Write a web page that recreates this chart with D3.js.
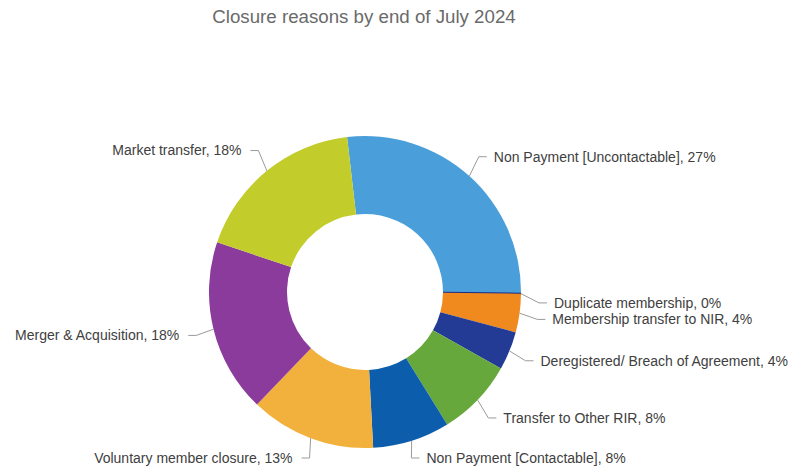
<!DOCTYPE html>
<html>
<head>
<meta charset="utf-8">
<script src="https://cdn.jsdelivr.net/npm/d3@7"></script>
<style>
  html, body { margin: 0; padding: 0; background: #fff; }
  svg { display: block; font-family: "Liberation Sans", Arial, sans-serif; }
</style>
</head>
<body>
<svg id="chart" width="792" height="469"></svg>
<script>
// Closure reasons, share of closures (%), clockwise from the top
const reasons = [
  "Non Payment [Uncontactable]",
  "Duplicate membership",
  "Membership transfer to NIR",
  "Deregistered/ Breach of Agreement",
  "Transfer to Other RIR",
  "Non Payment [Contactable]",
  "Voluntary member closure",
  "Merger & Acquisition",
  "Market transfer"
];
const shares = [27, 0, 4, 4, 8, 8, 13, 18, 18];
const sliceColors = [
  "#4a9fda", "#1e2b86", "#f0891e", "#243b95", "#66a83b",
  "#0c5ead", "#f1b13c", "#8b3b9b", "#c2cc2b"
];

const width = 792, height = 469;
const cx = 365, cy = 292;
const outerR = 156, innerR = 78, labelR = 182;
const firstAngle = -6.6 * Math.PI / 180;
const bottomLimit = height - 11 - cy;   // keep the lowest labels inside the frame
const minGap = 16.5;                    // vertical spacing between stacked labels

const svg = d3.select("#chart");

svg.append("text")
  .attr("x", 364)
  .attr("y", 23)
  .attr("text-anchor", "middle")
  .attr("fill", "#6a6a6a")
  .style("font-size", "18.7px")
  .text("Closure reasons by end of July 2024");

const data = reasons.map((name, i) => ({ name, value: shares[i], color: sliceColors[i] }));

const pie = d3.pie()
  .value(d => d.value)
  .sort(null)
  .startAngle(firstAngle)
  .endAngle(firstAngle + 2 * Math.PI);

const arcs = pie(data);
const arc = d3.arc().innerRadius(innerR).outerRadius(outerR);

const g = svg.append("g").attr("transform", `translate(${cx},${cy})`);

g.selectAll("path.slice")
  .data(arcs)
  .join("path")
  .attr("class", "slice")
  .attr("d", arc)
  .attr("fill", d => d.data.color)
  .attr("stroke", d => d.data.value === 0 ? d.data.color : "none")
  .attr("stroke-width", d => d.data.value === 0 ? 2 : 0);

// label anchors sit on a ring outside the donut, along each slice's mid angle
const polar = (r, a) => [r * Math.sin(a), -r * Math.cos(a)];

const labels = arcs.map(d => {
  const mid = (d.startAngle + d.endAngle) / 2;
  const right = Math.sin(mid) >= 0;
  const p0 = polar(outerR, mid);
  const p2 = polar(labelR, mid);
  // a zero-width slice gets its label nudged below the boundary line
  if (d.data.value === 0) p2[1] += 9;
  p2[1] = Math.min(p2[1], bottomLimit);
  return { d, mid, right, p0, p2 };
});

// push right-hand labels down so neighbours never collide
const rightSide = labels.filter(l => l.right).sort((a, b) => a.p2[1] - b.p2[1]);
for (let i = 1; i < rightSide.length; i++) {
  const prev = rightSide[i - 1].p2[1];
  if (rightSide[i].p2[1] < prev + minGap) rightSide[i].p2[1] = prev + minGap;
}
labels.forEach(l => { l.p1 = [l.p2[0] + (l.right ? -8 : 8), l.p2[1]]; });

g.selectAll("polyline.leader")
  .data(labels)
  .join("polyline")
  .attr("class", "leader")
  .attr("points", l => [l.p0, l.p1, l.p2].map(p => p.join(",")).join(" "))
  .attr("fill", "none")
  .attr("stroke", "#9a9a9a")
  .attr("stroke-width", 1);

g.selectAll("text.label")
  .data(labels)
  .join("text")
  .attr("class", "label")
  .attr("x", l => l.p2[0] + (l.right ? 7 : -9))
  .attr("y", l => l.p2[1])
  .attr("dy", "0.35em")
  .attr("text-anchor", l => l.right ? "start" : "end")
  .attr("fill", "#404040")
  .style("font-size", "14px")
  .text(l => `${l.d.data.name}, ${Math.round(l.d.data.value)}%`);
</script>
</body>
</html>
